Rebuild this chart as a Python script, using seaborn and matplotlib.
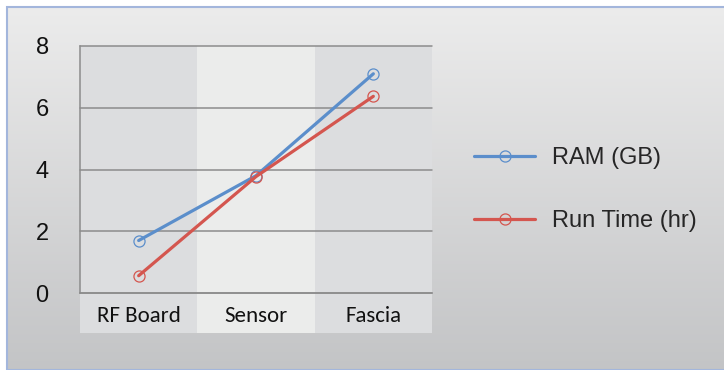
import matplotlib
matplotlib.use("Agg")
import matplotlib.pyplot as plt
import numpy as np
import pandas as pd
import seaborn as sns
from matplotlib.patches import Rectangle
from matplotlib.lines import Line2D

# data
categories = ["RF Board", "Sensor", "Fascia"]
ram_gb = [1.7, 3.8, 7.1]
run_time_hr = [0.56, 3.77, 6.37]
series_names = ["RAM (GB)", "Run Time (hr)"]
y_ticks = [0, 2, 4, 6, 8]

colors = ["#5b8ecb", "#d4564f"]
band_colors = ["#dcdddf", "#ebeceb", "#dcdddf"]
grid_col = "#8c8c8c"

df = pd.DataFrame({
    "category": categories * 2,
    "value": ram_gb + run_time_hr,
    "series": [series_names[0]] * 3 + [series_names[1]] * 3,
})

sns.set_theme(style="white")
plt.rcParams["font.family"] = ["Liberation Sans", "DejaVu Sans"]

fig = plt.figure(figsize=(7.24, 3.70), dpi=100)
fig.patch.set_facecolor("white")

# gradient background inside the blue frame
bg = fig.add_axes([0, 0, 1, 1], zorder=-10)
bg.set_axis_off()
grad = np.linspace(0, 1, 256).reshape(-1, 1)
top = np.array([0.925, 0.925, 0.925])
bot = np.array([0.765, 0.769, 0.776])
img = top + (bot - top) * grad[..., None]
bg.imshow(img, aspect="auto", extent=[6 / 724, 1, 0, 1 - 7 / 370])
bg.set_xlim(0, 1)
bg.set_ylim(0, 1)
bg.add_patch(Rectangle((6.5 / 724, 0.5 / 370), 1.2, 1 - 7.5 / 370,
                       fill=False, edgecolor="#a3b6dc", linewidth=1.5))

ax = fig.add_axes([80 / 724, 1 - 293 / 370, 352 / 724, 247 / 370])
ax.set_facecolor("none")

x = np.arange(len(categories))
# alternating category bands (extend under the tick labels)
for i, c in enumerate(band_colors):
    ax.axvspan(i - 0.5, i + 0.5, ymin=-0.162, ymax=1, color=c, zorder=0,
               clip_on=False, linewidth=0)

# horizontal gridlines incl. the top one
for v in y_ticks:
    ax.axhline(v, color=grid_col, linewidth=1.1, zorder=1, clip_on=False)

sns.lineplot(data=df, x="category", y="value", hue="series", palette=colors,
             linewidth=2.3, marker="o", markersize=8, markerfacecolor="none",
             markeredgewidth=0.9, ax=ax, legend=False, zorder=3)
for ln, c in zip(ax.lines[len(y_ticks):], colors):
    ln.set_markeredgecolor(c)

ax.set_xlim(-0.5, 2.5)
ax.set_ylim(0, 8)
ax.set_yticks(y_ticks)
ax.set_yticklabels([str(v) for v in y_ticks], fontsize=17)
ax.set_xticks(x)
ax.set_xticklabels(categories, fontsize=16.5, family=["Carlito", "DejaVu Sans"])
ax.set_xticks([-0.5, 0.5, 1.5, 2.5], minor=True)
ax.tick_params(axis="x", which="major", length=0, pad=9, colors="#111111")
ax.tick_params(axis="x", which="minor", length=7.5, width=1.1, color=grid_col, direction="out")
ax.tick_params(axis="y", which="major", length=7.5, width=1.1, color=grid_col, pad=15)
for lbl in ax.get_yticklabels():
    lbl.set_color("#111111")
ax.set_xlabel("")
ax.set_ylabel("")

for s in ["top", "right"]:
    ax.spines[s].set_visible(False)
ax.spines["left"].set_color(grid_col)
ax.spines["left"].set_linewidth(1.1)
ax.spines["bottom"].set_color(grid_col)
ax.spines["bottom"].set_linewidth(1.1)

handles = [Line2D([0], [0], color=c, linewidth=2.3, marker="o", markersize=8,
                  markerfacecolor="none", markeredgewidth=0.9, markeredgecolor=c)
           for c in colors]
fig.legend(handles, series_names, loc="upper left", bbox_to_anchor=(474 / 724, 1 - 147 / 370),
           frameon=False, fontsize=17, handlelength=2.6, handletextpad=0.7,
           labelspacing=1.75, borderaxespad=0, borderpad=0)

fig.savefig("out.png", dpi=100)
